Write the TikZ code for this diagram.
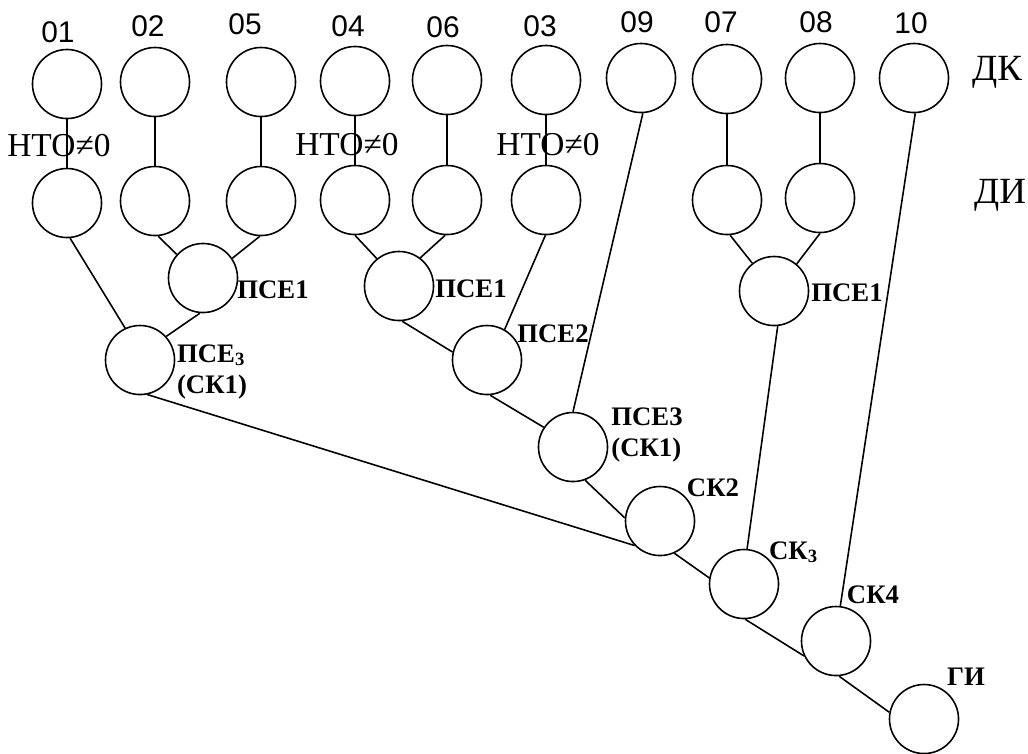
\documentclass[tikz,border=0pt]{standalone}
\usepackage{fontspec}
\setmainfont{Liberation Serif}
\newfontfamily\numfont{Liberation Sans}
\usetikzlibrary{positioning}

\begin{document}
\begin{tikzpicture}[x=0.01cm, y=-0.01cm]
\tikzstyle{unit} = [circle, draw, line width=0.45pt, minimum size=6.9mm, inner sep=0pt]
\tikzstyle{num} = [inner sep=0pt, font=\fontsize{8.5}{10}\numfont]
\tikzstyle{tag} = [inner sep=0pt, align=left, font=\fontsize{7.6}{9}\selectfont\bfseries]
\tikzstyle{cond} = [inner sep=0pt, font=\fontsize{9.5}{11}\rmfamily]
\tikzstyle{level} = [inner sep=0pt, font=\fontsize{10.5}{12}\rmfamily]
\tikzstyle{line} = [draw, line width=0.45pt]
\useasboundingbox (0,0) rectangle (1028,753);

% row ДК
\node [unit] (dk01) at (67,84) {};
\node [unit] (dk02) at (155,82) {};
\node [unit] (dk05) at (261,82) {};
\node [unit] (dk04) at (355,81) {};
\node [unit] (dk06) at (447,80) {};
\node [unit] (dk03) at (546,80) {};
\node [unit] (dk09) at (641,78) {};
\node [unit] (dk07) at (727,79) {};
\node [unit] (dk08) at (820,78) {};
\node [unit] (dk10) at (914,78) {};
\node [num] (n01) at (58,32) {01};
\node [num] (n02) at (148,26) {02};
\node [num] (n05) at (245,24) {05};
\node [num] (n04) at (348,26) {04};
\node [num] (n06) at (443,27) {06};
\node [num] (n03) at (540,26) {03};
\node [num] (n09) at (637,22) {09};
\node [num] (n07) at (721,22) {07};
\node [num] (n08) at (816,22) {08};
\node [num] (n10) at (911,23) {10};
\node [level] (dk) at (997,72) {ДК};

% row ДИ
\node [unit] (di01) at (67,203) {};
\node [unit] (di02) at (155,201) {};
\node [unit] (di05) at (261,201) {};
\node [unit] (di04) at (355,200) {};
\node [unit] (di06) at (447,200) {};
\node [unit] (di03) at (546,200) {};
\node [unit] (di07) at (727,200) {};
\node [unit] (di08) at (820,198) {};
\node [level] (di) at (1000,195) {ДИ};

% ПСЕ and СК
\node [unit] (p1a) at (203,278) {};
\node [unit] (p3a) at (140,360) {};
\node [unit] (p1b) at (399,286) {};
\node [unit] (p2) at (487,360) {};
\node [unit] (p3b) at (573,447) {};
\node [unit] (p1c) at (774,291) {};
\node [unit] (sk2) at (660,521) {};
\node [unit] (sk3) at (744,584) {};
\node [unit] (sk4) at (836,641) {};
\node [unit] (gi) at (924,719) {};
\node [tag] (t1a) at (273,290) {ПСЕ1};
\node [tag] (t3a) at (212,372) {ПСЕ\textsubscript{3}\\(СК1)};
\node [tag] (t1b) at (471,289) {ПСЕ1};
\node [tag] (t2) at (553,334) {ПСЕ2};
\node [tag] (t3b) at (647,435) {ПСЕ3\\(СК1)};
\node [tag] (t1c) at (847,293) {ПСЕ1};
\node [tag] (tk2) at (713,488) {СК2};
\node [tag] (tk3) at (794,552) {СК\textsubscript{3}};
\node [tag] (tk4) at (873,595) {СК4};
\node [tag] (tgi) at (966,677) {ГИ};

\tikzstyle{every path}=[line]
\path (dk01) -- (di01);
\path (dk02) -- (di02);
\path (dk05) -- (di05);
\path (dk04) -- (di04);
\path (dk06) -- (di06);
\path (dk03) -- (di03);
\path (dk07) -- (di07);
\path (dk08) -- (di08);
\node [cond] (c01) at (59,146) {НТО≠0};
\node [cond] (c04) at (347,145) {НТО≠0};
\node [cond] (c03) at (548,145) {НТО≠0};
% left group
\path (di02.-85) -- (p1a.138);
\path (di05.-92) -- (p1a.34);
\path (di01.-85) -- (p3a.115);
\path (p1a.-95) -- (p3a.42);
\path (p3a.-78) -- (sk2.224);
% middle group
\path (di04.-90) -- (p1b.129);
\path (di06.-93) -- (p1b.53);
\path (p1b.-85) -- (p2.167);
\path (di03.-91) -- (p2.60);
\path (p2.-85) -- (p3b.146);
\path (dk09.-87) -- (p3b.90);
\path (p3b.-70) -- (sk2.175);
% right group
\path (di07.-85) -- (p1c.128);
\path (di08.-90) -- (p1c.50);
\path (p1c.-84) -- (sk3.85);
\path (sk2.-66) -- (sk3.170);
\path (sk3.-88) -- (sk4.205);
\path (dk10.-88) -- (sk4.83);
\path (sk4.-85) -- (gi.169);
\end{tikzpicture}
\end{document}
